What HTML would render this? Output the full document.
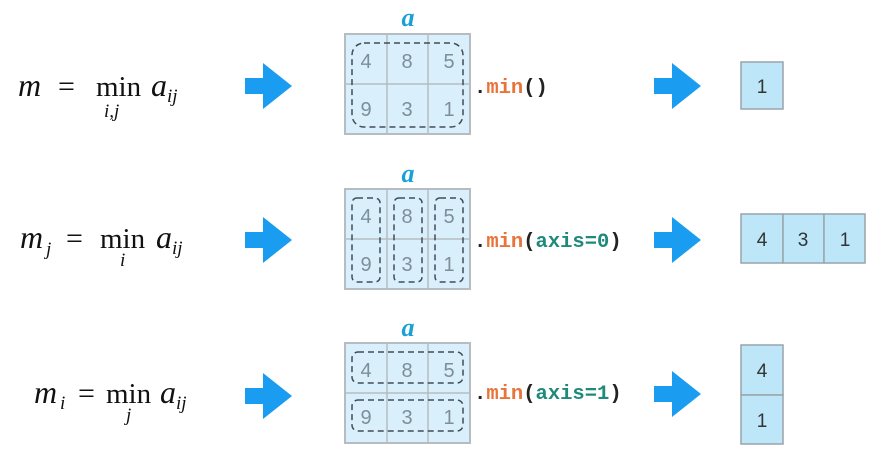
<!DOCTYPE html>
<html><head><meta charset="utf-8"><style>
body{margin:0;background:#fff;width:885px;height:463px;overflow:hidden}
svg{display:block}
.m{font-family:"Liberation Serif",serif;font-style:italic;fill:#111}
.r{font-family:"Liberation Serif",serif;fill:#111}
.n{font-family:"Liberation Sans",sans-serif;font-size:20px;fill:#7d8e9a;text-anchor:middle}
.o{font-family:"Liberation Sans",sans-serif;font-size:19px;fill:#333;text-anchor:middle}
.c{font-family:"Liberation Mono",monospace;font-size:20.5px;font-weight:bold}
.a{font-family:"Liberation Serif",serif;font-style:italic;font-weight:bold;font-size:26px;fill:#1aa0d8;text-anchor:middle}
</style></head><body>
<svg width="885" height="463" xmlns="http://www.w3.org/2000/svg">
<defs>
<g id="arr"><polygon points="0,-8 18,-8 18,-23 47,0 18,23 18,8 0,8" fill="#1a9cf0"/></g>
</defs>
<text x="18" y="96" class="m" font-size="32">m</text>
<text x="58" y="96" class="r" font-size="30">=</text>
<text x="96" y="96" class="r" font-size="29">min</text>
<text x="104" y="117" class="m" font-size="19">i,j</text>
<text x="151" y="96" class="m" font-size="32">a</text>
<text x="167" y="102" class="m" font-size="19">ij</text>

<text x="20" y="248" class="m" font-size="32">m</text>
<text x="46" y="255" class="m" font-size="19">j</text>
<text x="66" y="248" class="r" font-size="30">=</text>
<text x="100" y="248" class="r" font-size="29">min</text>
<text x="120" y="266" class="m" font-size="19">i</text>
<text x="156" y="248" class="m" font-size="32">a</text>
<text x="172" y="254" class="m" font-size="19">ij</text>

<text x="34" y="403" class="m" font-size="32">m</text>
<text x="60" y="409" class="m" font-size="19">i</text>
<text x="78" y="403" class="r" font-size="30">=</text>
<text x="106" y="403" class="r" font-size="29">min</text>
<text x="126" y="421" class="m" font-size="19">j</text>
<text x="160" y="403" class="m" font-size="32">a</text>
<text x="176" y="409" class="m" font-size="19">ij</text>

<use href="#arr" x="245" y="86"/>
<use href="#arr" x="245" y="240"/>
<use href="#arr" x="245" y="396"/>
<use href="#arr" x="654" y="86"/>
<use href="#arr" x="654" y="240"/>
<use href="#arr" x="654" y="394"/>

<g id="g1">
<rect x="345" y="34" width="125" height="100" fill="#d9f0fc" stroke="#b5bcc2" stroke-width="2"/>
<line x1="387" y1="34" x2="387" y2="134" stroke="#b5bcc2" stroke-width="1.5"/>
<line x1="428" y1="34" x2="428" y2="134" stroke="#b5bcc2" stroke-width="1.5"/>
<line x1="345" y1="84" x2="470" y2="84" stroke="#b5bcc2" stroke-width="1.5"/>
</g>
<text x="408" y="26" class="a">a</text>
<text x="366" y="68" class="n">4</text><text x="407" y="68" class="n">8</text><text x="449" y="68" class="n">5</text>
<text x="366" y="116" class="n">9</text><text x="407" y="116" class="n">3</text><text x="449" y="116" class="n">1</text>
<rect x="352" y="43" width="111" height="84" rx="12" fill="none" stroke="#444c55" stroke-width="1.5" stroke-dasharray="6,4"/>

<use href="#g1" y="155"/>
<text x="408" y="182" class="a">a</text>
<text x="366" y="223" class="n">4</text><text x="407" y="223" class="n">8</text><text x="449" y="223" class="n">5</text>
<text x="366" y="271" class="n">9</text><text x="407" y="271" class="n">3</text><text x="449" y="271" class="n">1</text>
<g fill="none" stroke="#444c55" stroke-width="1.5" stroke-dasharray="6,4">
<rect x="352" y="198" width="28" height="84" rx="5"/>
<rect x="394" y="198" width="28" height="84" rx="5"/>
<rect x="435" y="198" width="28" height="84" rx="5"/>
</g>

<use href="#g1" y="309"/>
<text x="408" y="336" class="a">a</text>
<text x="366" y="377" class="n">4</text><text x="407" y="377" class="n">8</text><text x="449" y="377" class="n">5</text>
<text x="366" y="424" class="n">9</text><text x="407" y="424" class="n">3</text><text x="449" y="424" class="n">1</text>
<g fill="none" stroke="#444c55" stroke-width="1.5" stroke-dasharray="6,4">
<rect x="352" y="352" width="111" height="31" rx="6"/>
<rect x="352" y="400" width="111" height="31" rx="6"/>
</g>

<text x="474" y="93" class="c"><tspan fill="#222">.</tspan><tspan fill="#e8743b">min</tspan><tspan fill="#222">()</tspan></text>
<text x="474" y="247" class="c"><tspan fill="#222">.</tspan><tspan fill="#e8743b">min</tspan><tspan fill="#222">(</tspan><tspan fill="#1f8a7a">axis=0</tspan><tspan fill="#222">)</tspan></text>
<text x="474" y="399" class="c"><tspan fill="#222">.</tspan><tspan fill="#e8743b">min</tspan><tspan fill="#222">(</tspan><tspan fill="#1f8a7a">axis=1</tspan><tspan fill="#222">)</tspan></text>

<g fill="#bde6f9" stroke="#9aa3aa" stroke-width="1.5">
<rect x="741" y="62" width="42" height="47"/>
<rect x="741" y="214" width="42" height="49"/>
<rect x="783" y="214" width="41" height="49"/>
<rect x="824" y="214" width="41" height="49"/>
<rect x="741" y="345" width="42" height="50"/>
<rect x="741" y="395" width="42" height="49"/>
</g>
<text x="762" y="93" class="o">1</text>
<text x="762" y="246" class="o">4</text><text x="803" y="246" class="o">3</text><text x="845" y="246" class="o">1</text>
<text x="762" y="377" class="o">4</text><text x="762" y="427" class="o">1</text>
</svg>
</body></html>
